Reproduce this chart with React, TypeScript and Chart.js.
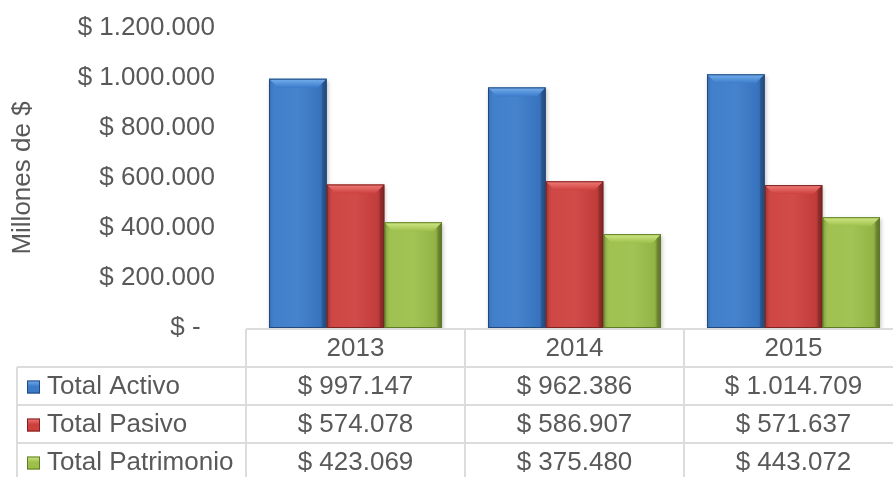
import React, { useEffect, useRef } from "react";
import { Chart, registerables } from "chart.js";

Chart.register(...registerables);

const categories = ["2013", "2014", "2015"];
const seriesNames = ["Total Activo", "Total Pasivo", "Total Patrimonio"];
const totalActivo = [997147, 962386, 1014709];
const totalPasivo = [574078, 586907, 571637];
const totalPatrimonio = [423069, 375480, 443072];
const yTicks = [0, 200000, 400000, 600000, 800000, 1000000, 1200000];

const mainColors = ["#3b7bca", "#cd403e", "#9cbf4a"];
const lightColors = ["#76b0ee", "#f07c7a", "#d2e887"];
const darkColors = ["#21497c", "#7d2321", "#5e7c25"];

const FONT = "'Liberation Sans', Arial, sans-serif";
const TEXT = "#595959";

function fmt(v: number): string {
  const s = Math.round(v).toString().replace(/\B(?=(\d{3})+(?!\d))/g, ".");
  return "$ " + s;
}

const bevelPlugin = {
  id: "bevel",
  beforeDatasetsDraw(chart: any) {
    const ctx = chart.ctx;
    ctx.save();
    ctx.shadowColor = "rgba(0,0,0,0.25)";
    ctx.shadowBlur = 4;
    ctx.shadowOffsetX = 1;
    ctx.shadowOffsetY = 2;
  },
  afterDatasetsDraw(chart: any) {
    const ctx = chart.ctx;
    ctx.restore();
    chart.data.datasets.forEach((ds: any, di: number) => {
      const meta = chart.getDatasetMeta(di);
      meta.data.forEach((el: any) => {
        const { x, y, base, width } = el.getProps(["x", "y", "base", "width"], true);
        const l = x - width / 2;
        const r = x + width / 2;
        const t = Math.min(y, base);
        const b = Math.max(y, base);
        const d = Math.min(9, (b - t) / 2);
        ctx.save();
        const hg = ctx.createLinearGradient(l, 0, r, 0);
        hg.addColorStop(0, "rgba(0,0,0,0.12)");
        hg.addColorStop(0.12, "rgba(255,255,255,0.04)");
        hg.addColorStop(0.5, "rgba(255,255,255,0.06)");
        hg.addColorStop(0.88, "rgba(0,0,0,0.06)");
        hg.addColorStop(1, "rgba(0,0,0,0.3)");
        ctx.fillStyle = hg;
        ctx.fillRect(l, t, width, b - t);
        const tg = ctx.createLinearGradient(0, t, 0, t + d);
        tg.addColorStop(0, lightColors[di]);
        tg.addColorStop(1, mainColors[di]);
        ctx.fillStyle = tg;
        ctx.beginPath();
        ctx.moveTo(l, t);
        ctx.lineTo(r, t);
        ctx.lineTo(r - d, t + d);
        ctx.lineTo(l + d, t + d);
        ctx.closePath();
        ctx.fill();
        ctx.fillStyle = "rgba(0,0,0,0.15)";
        ctx.beginPath();
        ctx.moveTo(r, t);
        ctx.lineTo(r, b);
        ctx.lineTo(r - d * 0.5, b);
        ctx.lineTo(r - d * 0.5, t + d * 0.5);
        ctx.closePath();
        ctx.fill();
        ctx.strokeStyle = darkColors[di];
        ctx.lineWidth = 1;
        ctx.strokeRect(l + 0.5, t + 0.5, width - 1, b - t - 1);
        ctx.restore();
      });
    });
  },
};

const tablePlugin = {
  id: "dataTable",
  afterDraw(chart: any) {
    const ctx = chart.ctx;
    const area = chart.chartArea;
    const xs = chart.scales.x;
    const n = categories.length;
    const catW = (area.right - area.left) / n;
    const rowH = 38;
    const top = area.bottom + 1;
    const leftEdge = 17;
    const rows = [totalActivo, totalPasivo, totalPatrimonio];
    const bottom = top + rowH * (rows.length + 1);
    ctx.save();
    ctx.strokeStyle = "#dcdcdc";
    ctx.lineWidth = 2;
    ctx.beginPath();
    ctx.moveTo(area.left, top);
    ctx.lineTo(area.right + 2, top);
    for (let k = 1; k <= rows.length + 1; k++) {
      ctx.moveTo(leftEdge, top + rowH * k);
      ctx.lineTo(area.right + 2, top + rowH * k);
    }
    ctx.moveTo(leftEdge, top + rowH);
    ctx.lineTo(leftEdge, bottom);
    for (let i = 0; i <= n; i++) {
      const xx = area.left + catW * i;
      ctx.moveTo(xx, top);
      ctx.lineTo(xx, bottom);
    }
    ctx.stroke();

    ctx.fillStyle = TEXT;
    ctx.font = `26px ${FONT}`;
    ctx.textBaseline = "middle";
    ctx.textAlign = "center";
    categories.forEach((c, i) => {
      ctx.fillText(c, xs.getPixelForValue(i), top + rowH / 2 + 1);
    });
    rows.forEach((vals, r) => {
      const cy = top + rowH * (r + 1) + rowH / 2 + 1;
      const kx = 27, ks = 13, ky = cy - ks / 2;
      const g = ctx.createLinearGradient(0, ky, 0, ky + ks);
      g.addColorStop(0, lightColors[r]);
      g.addColorStop(0.45, mainColors[r]);
      g.addColorStop(1, mainColors[r]);
      ctx.fillStyle = g;
      ctx.fillRect(kx, ky, ks, ks);
      ctx.strokeStyle = darkColors[r];
      ctx.lineWidth = 1;
      ctx.strokeRect(kx + 0.5, ky + 0.5, ks - 1, ks - 1);
      ctx.fillStyle = TEXT;
      ctx.textAlign = "left";
      ctx.fillText(seriesNames[r], 47, cy);
      ctx.textAlign = "center";
      vals.forEach((v, i) => {
        ctx.fillText(fmt(v), xs.getPixelForValue(i), cy);
      });
    });
    ctx.restore();
  },
};

export default function App() {
  const ref = useRef<HTMLCanvasElement | null>(null);
  useEffect(() => {
    if (!ref.current) return;
    const chart = new Chart(ref.current, {
      type: "bar",
      data: {
        labels: categories,
        datasets: [
          { label: seriesNames[0], data: totalActivo, backgroundColor: mainColors[0] },
          { label: seriesNames[1], data: totalPasivo, backgroundColor: mainColors[1] },
          { label: seriesNames[2], data: totalPatrimonio, backgroundColor: mainColors[2] },
        ],
      },
      options: {
        responsive: false,
        animation: false,
        events: [],
        layout: { padding: { top: 28, bottom: 149, right: 1, left: 0 } },
        datasets: { bar: { categoryPercentage: 0.79, barPercentage: 1 } },
        plugins: { legend: { display: false }, tooltip: { enabled: false } },
        scales: {
          x: { display: false },
          y: {
            min: 0,
            max: 1200000,
            afterFit(scale: any) {
              scale.width = 246;
              scale.paddingTop = 0;
              scale.paddingBottom = 0;
            },
            afterBuildTicks(scale: any) {
              scale.ticks = yTicks.map((v) => ({ value: v }));
            },
            grid: { display: false, drawTicks: true, tickLength: 31 },
            border: { display: false },
            ticks: {
              padding: 0,
              color: TEXT,
              font: { family: FONT, size: 26 },
              callback: (v: any) => (Number(v) === 0 ? "$ -\u2007" : fmt(Number(v))),
            },
            title: {
              display: true,
              text: "Millones de $",
              color: TEXT,
              font: { family: FONT, size: 26 },
              padding: { top: 7, bottom: 0 },
            },
          },
        },
      },
      plugins: [bevelPlugin, tablePlugin],
    } as any);
    return () => chart.destroy();
  }, []);
  return (
    <div style={{ position: "fixed", left: 0, top: 0, width: 893, height: 477, overflow: "hidden", background: "#fff" }}>
      <canvas ref={ref} width={904} height={477} style={{ display: "block" }} />
    </div>
  );
}
